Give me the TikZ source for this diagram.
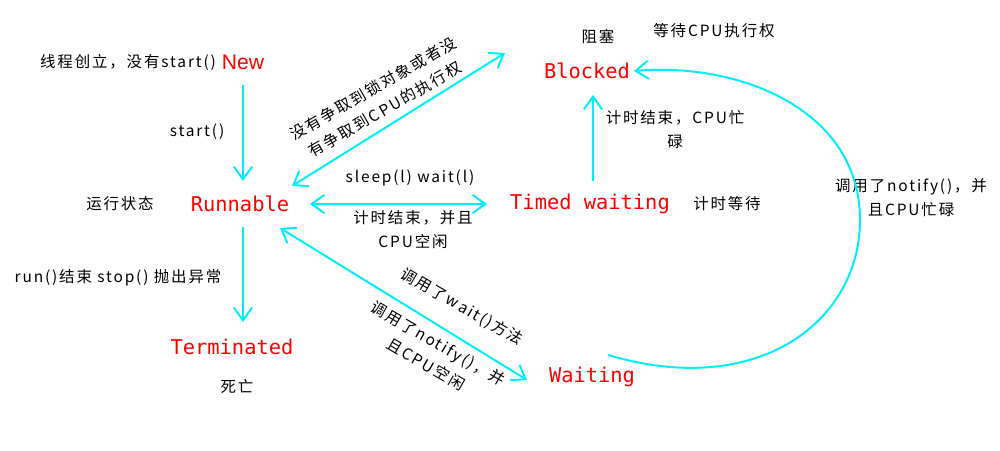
\documentclass[tikz,border=0pt]{standalone}
\usepackage{fontspec}
\usetikzlibrary{arrows.meta,calc}
\newfontfamily\cjkfnt[LetterSpace=12]{Noto Sans CJK SC}
\newfontfamily\monofnt{DejaVu Sans Mono}
\newfontfamily\sansfnt{Liberation Sans}
\definecolor{lineblue}{RGB}{0,238,255}
\begin{document}
\begin{tikzpicture}[x=0.025cm,y=-0.025cm,
  state/.style={text=red,font=\monofnt\fontsize{14.5}{17}\selectfont,inner sep=0pt},
  note/.style={font=\cjkfnt\fontsize{11}{17}\selectfont,align=center,inner sep=0pt},
  conn/.style={draw=lineblue,line width=1.4pt,-{Straight Barb[length=9pt,width=13pt]}},
  dconn/.style={draw=lineblue,line width=1.4pt,{Straight Barb[length=9pt,width=13pt]}-{Straight Barb[length=9pt,width=13pt]}}]
\useasboundingbox (0,0) rectangle (1000,450);
% states
\node[state,font=\sansfnt\fontsize{15}{17}\selectfont] (new) at (243,62) {New};
\node[state] (run) at (240,204) {Runnable};
\node[state] (term) at (232,347) {Terminated};
\node[state] (blk) at (587,71) {Blocked};
\node[state] (tw) at (590,204) {Timed waiting};
\node[state] (wait) at (592,377) {Waiting};
% notes
\node[note] (l1) at (128,62) {线程创立，没有start()};
\node[note] (l2) at (197,132) {start()};
\node[note] (l3) at (120,204) {运行状态};
\node[note] (l4) at (118,278) {run()结束 stop() 抛出异常};
\node[note] (l5) at (237,386) {死亡};
\node[note] (l6) at (598,37) {阻塞};
\node[note] (l7) at (714,31) {等待CPU执行权};
\node[note,rotate=30] (l8) at (379,99) {没有争取到锁对象或者没\\有争取到CPU的执行权};
\node[note] (l9) at (410,178) {sleep(l) wait(l)};
\node[note] (l10) at (413,230) {计时结束，并且\\CPU空闲};
\node[note] (l11) at (727,204) {计时等待};
\node[note] (l12) at (675,130) {计时结束，CPU忙\\碌};
\node[note] (l13) at (911,198) {调用了notify()，并\\且CPU忙碌};
\node[note,rotate=-30] (l14) at (462,307) {调用了wait()方法};
\node[note,rotate=-30] (l15) at (432,354) {调用了notify()，并\\且CPU空闲};
% connectors
\draw[conn] ($(new.center)+(0,23)$) -- ($(run.center)+(3,-23)$);
\draw[conn] ($(run.center)+(3,23)$) -- ($(term.center)+(11,-25)$);
\draw[dconn] ($(run.center)+(52,-18)$) -- ($(blk.center)+(-82,-18)$);
\draw[dconn] ($(run.center)+(70,0)$) -- ($(tw.center)+(-103,0)$);
\draw[conn] ($(tw.center)+(3,-23)$) -- ($(blk.center)+(6,24)$);
\draw[dconn] ($(run.center)+(40,24)$) -- ($(wait.center)+(-65,3)$);
\draw[conn] ($(wait.center)+(16,-22)$) .. controls (760,400) and (860,320) .. (860,220)
  .. controls (860,110) and (740,62) .. ($(blk.center)+(47,0)$);
\end{tikzpicture}
\end{document}
